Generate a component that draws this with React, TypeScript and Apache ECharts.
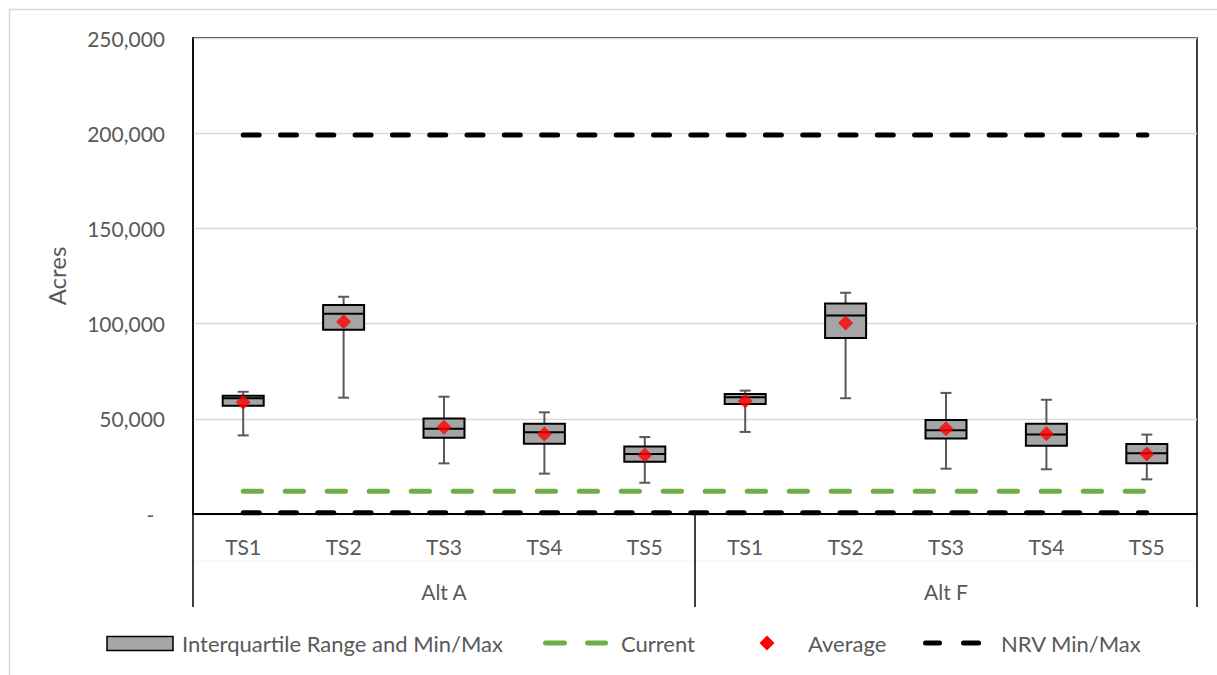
import React, { useEffect, useRef } from "react";
import * as echarts from "echarts";

const categories = ["TS1", "TS2", "TS3", "TS4", "TS5", "TS1", "TS2", "TS3", "TS4", "TS5"];
const groups = ["Alt A", "Alt F"];
const minVals = [41300, 61100, 26600, 21200, 16400, 43100, 60800, 23800, 23500, 18200];
const q1Vals = [56900, 96800, 40100, 36900, 27500, 57800, 92400, 39600, 35900, 26600];
const medianVals = [60800, 105200, 44800, 42900, 31500, 61300, 104200, 44000, 41700, 31900];
const q3Vals = [62100, 109800, 50100, 47400, 35400, 63000, 110500, 49400, 47400, 36800];
const maxVals = [64200, 114100, 61600, 53400, 40400, 64800, 116200, 63600, 60000, 41700];
const avgVals = [58700, 101000, 45500, 42000, 31000, 59400, 100300, 44800, 42200, 31500];
const currentVals = [12000, 12000, 12000, 12000, 12000, 12000, 12000, 12000, 12000, 12000];
const nrvMinVals = [700, 700, 700, 700, 700, 700, 700, 700, 700, 700];
const nrvMaxVals = [199000, 199000, 199000, 199000, 199000, 199000, 199000, 199000, 199000, 199000];
const yTicks = { min: 0, max: 250000, interval: 50000 };

const FONT = "Lato";
const TXT = "#595959";
const FS = 21;
const LFS = 22;

export default function App() {
  const ref = useRef<HTMLDivElement>(null);
  useEffect(() => {
    if (!ref.current) return;
    const chart = echarts.init(ref.current, null, { renderer: "svg" });
    const boxData = categories.map((_, i) => [i, minVals[i], q1Vals[i], medianVals[i], q3Vals[i], maxVals[i]]);
    const avgData = categories.map((_, i) => [i, avgVals[i]]);
    const legY = 643;
    const textStyle = (t: string, x: number) => ({
      type: "text",
      x,
      y: legY,
      style: { text: t, fill: TXT, font: `${LFS}px ${FONT}`, verticalAlign: "middle", align: "left" },
    });
    const dash = (x1: number, x2: number, color: string) => ({
      type: "line",
      shape: { x1, y1: legY, x2, y2: legY },
      style: { stroke: color, lineWidth: 5, lineCap: "round" },
    });
    chart.setOption({
      animation: false,
      backgroundColor: "#fff",
      grid: {
        left: 193, top: 38, width: 1004, height: 476,
        show: true, borderColor: "#000", borderWidth: 1.5, containLabel: false,
      },
      xAxis: [
        {
          type: "category",
          data: categories,
          position: "bottom",
          axisLine: { show: true, lineStyle: { color: "#000", width: 2 } },
          axisTick: { show: false },
          axisLabel: { color: TXT, fontFamily: FONT, fontSize: FS, margin: 22, interval: 0 },
          splitLine: { show: false },
        },
        {
          type: "category",
          data: groups,
          position: "bottom",
          axisLine: { show: false },
          axisTick: { show: true, length: 93, lineStyle: { color: "#000", width: 1.5 } },
          axisLabel: { color: TXT, fontFamily: FONT, fontSize: FS, margin: 67 },
          splitLine: { show: false },
        },
      ],
      yAxis: {
        type: "value",
        min: yTicks.min,
        max: yTicks.max,
        interval: yTicks.interval,
        name: "Acres",
        nameLocation: "middle",
        nameRotate: 90,
        nameGap: 125,
        nameTextStyle: { color: TXT, fontFamily: FONT, fontSize: 24 },
        axisLine: { show: true, lineStyle: { color: "#000", width: 1.5 } },
        axisTick: { show: false },
        axisLabel: {
          color: TXT, fontFamily: FONT, fontSize: FS, margin: 28,
          formatter: (v: number) => (v === 0 ? "-\u00a0\u00a0" : v.toLocaleString("en-US")),
        },
        splitLine: { show: true, lineStyle: { color: "#D9D9D9", width: 1.3 } },
      },
      series: [
        {
          name: "Current", type: "line", data: currentVals, symbol: "none", z: 2,
          lineStyle: { color: "#70AD47", width: 5, type: [18.3, 23.7], cap: "round" },
        },
        {
          name: "NRV Min/Max", type: "line", data: nrvMinVals, symbol: "none", z: 2,
          lineStyle: { color: "#000", width: 5, type: [16, 21.3], cap: "round" },
        },
        {
          name: "NRV Min/Max", type: "line", data: nrvMaxVals, symbol: "none", z: 2,
          lineStyle: { color: "#000", width: 5, type: [16, 21.3], cap: "round" },
        },
        {
          name: "Interquartile Range and Min/Max",
          type: "custom",
          z: 3,
          encode: { x: 0, y: [1, 2, 3, 4, 5] },
          data: boxData,
          renderItem: (params: any, api: any) => {
            const i = api.value(0);
            const pMin = api.coord([i, api.value(1)]);
            const pQ1 = api.coord([i, api.value(2)]);
            const pMed = api.coord([i, api.value(3)]);
            const pQ3 = api.coord([i, api.value(4)]);
            const pMax = api.coord([i, api.value(5)]);
            const cx = pMin[0];
            const hw = 20.5;
            const cw = 5.5;
            const wStyle = { stroke: "#595959", lineWidth: 2, fill: null };
            return {
              type: "group",
              children: [
                { type: "line", shape: { x1: cx, y1: pMin[1], x2: cx, y2: pQ1[1] }, style: wStyle },
                { type: "line", shape: { x1: cx, y1: pQ3[1], x2: cx, y2: pMax[1] }, style: wStyle },
                { type: "line", shape: { x1: cx - cw, y1: pMin[1], x2: cx + cw, y2: pMin[1] }, style: wStyle },
                { type: "line", shape: { x1: cx - cw, y1: pMax[1], x2: cx + cw, y2: pMax[1] }, style: wStyle },
                {
                  type: "rect",
                  shape: { x: cx - hw, y: pQ3[1], width: hw * 2, height: pQ1[1] - pQ3[1] },
                  style: { fill: "#A5A5A5", stroke: "#000", lineWidth: 2 },
                },
                {
                  type: "line",
                  shape: { x1: cx - hw, y1: pMed[1], x2: cx + hw, y2: pMed[1] },
                  style: { stroke: "#000", lineWidth: 2 },
                },
              ],
            };
          },
        },
        {
          name: "Average", type: "scatter", data: avgData, symbol: "diamond", symbolSize: 15, z: 4,
          itemStyle: { color: "#FF0000" },
        },
      ],
      graphic: [
        {
          type: "rect", left: 7, top: 7, silent: true,
          shape: { width: 1240, height: 700 },
          style: { fill: "none", stroke: "#D9D9D9", lineWidth: 1.5 },
        },
        {
          type: "line", silent: true,
          shape: { x1: 193, y1: 561, x2: 1197, y2: 561 },
          style: { stroke: "#F5F5F5", lineWidth: 1 },
        },
        {
          type: "rect",
          shape: { x: 107, y: 636.5, width: 66, height: 14 },
          style: { fill: "#A5A5A5", stroke: "#000", lineWidth: 1.5 },
        },
        textStyle("Interquartile Range and Min/Max", 182),
        dash(545.5, 564.5, "#70AD47"),
        dash(587.5, 605.5, "#70AD47"),
        textStyle("Current", 621),
        {
          type: "polygon",
          shape: { points: [[767, 635.5], [774.5, 643], [767, 650.5], [759.5, 643]] },
          style: { fill: "#FF0000" },
        },
        textStyle("Average", 808),
        dash(925.5, 939.5, "#000"),
        dash(963.5, 978.5, "#000"),
        textStyle("NRV Min/Max", 1001),
      ],
    });
    return () => chart.dispose();
  }, []);
  return (
    <div
      ref={ref}
      style={{ position: "absolute", left: 0, top: 0, width: 1217, height: 675, background: "#fff" }}
    />
  );
}
